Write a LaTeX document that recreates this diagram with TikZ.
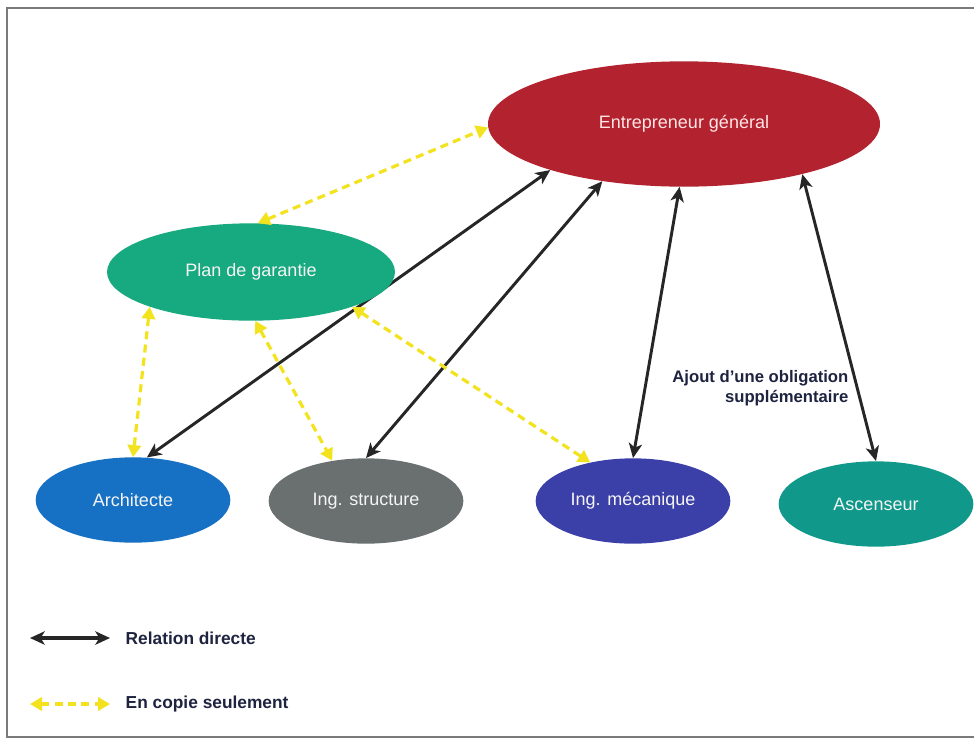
\documentclass[tikz,border=0pt]{standalone}
\usepackage{fontspec}
\setmainfont{Liberation Sans}
\usetikzlibrary{shapes.geometric,arrows.meta}
\definecolor{cEnt}{HTML}{B3222F}
\definecolor{cPlan}{HTML}{17A97F}
\definecolor{cArch}{HTML}{1670C4}
\definecolor{cStr}{HTML}{69706F}
\definecolor{cMec}{HTML}{3B3FA8}
\definecolor{cAsc}{HTML}{10988A}
\definecolor{cYel}{HTML}{F2E31E}
\definecolor{cNavy}{HTML}{1E2340}
\definecolor{cFrame}{HTML}{7A7A7A}
\begin{document}
\begin{tikzpicture}[x=0.75pt,y=-0.75pt,
  blob/.style={ellipse,inner sep=0pt,text=white!92!gray,font=\fontsize{13.5pt}{16pt}\selectfont},
  small/.style={blob,minimum width=146pt,minimum height=64pt},
  direct/.style={draw=black!85,line width=2.2pt,{Stealth[length=11pt,width=10pt,inset=3pt]}-{Stealth[length=11pt,width=10pt,inset=3pt]}},
  copie/.style={draw=cYel,line width=2.4pt,dash pattern=on 6pt off 4pt,{Triangle[length=9pt,width=10pt]}-{Triangle[length=9pt,width=10pt]}},
  lbl/.style={text=cNavy,font=\bfseries\fontsize{12.5pt}{15pt}\selectfont}]
\useasboundingbox (0,0) rectangle (974,740);
\fill[white] (0,0) rectangle (974,740);
\draw[cFrame,line width=1.5pt] (974,8) -- (7,8) -- (7,737) -- (974,737);

\node[blob,fill=cEnt,minimum width=294pt,minimum height=94pt,text=pink!40!white] (ent) at (684,124) {Entrepreneur général};
\node[small,fill=cArch] (arch) at (133,500) {Architecte};
\draw[direct] (arch.72) -- (ent.199);
\node[blob,fill=cPlan,minimum width=216pt,minimum height=73pt] (plan) at (251,272) {Plan de garantie};
\node[small,fill=cStr] (str) at (366,501) {Ing. structure};
\node[small,fill=cMec] (mec) at (633,501) {Ing. mécanique};
\node[small,fill=cAsc] (asc) at (876,504) {Ascenseur};

\node[lbl,align=right,anchor=north east] (note) at (853,366) {Ajout d'une obligation\\supplémentaire};

\draw[direct] (str.north) -- (ent.215);
\draw[direct] (mec.north) -- (ent.266);
\draw[direct] (asc.north) -- (ent.337);

\draw[copie] (plan.82) -- (ent.181);
\draw[copie] (plan.199) -- (arch.north);
\draw[copie] (plan.275) -- (str.130);
\draw[copie] (plan.341) -- (mec.138);

% legend
\coordinate (l1a) at (30,638);
\coordinate (l1b) at (110,638);
\coordinate (l2a) at (30,704);
\coordinate (l2b) at (110,704);
\draw[direct,line width=2.8pt] (l1a) -- (l1b);
\draw[copie] (l2a) -- (l2b);
\node[lbl,anchor=west,font=\bfseries\fontsize{13pt}{15pt}\selectfont] (t1) at (121,638) {Relation directe};
\node[lbl,anchor=west,font=\bfseries\fontsize{13pt}{15pt}\selectfont] (t2) at (121,704) {En copie seulement};
\end{tikzpicture}
\end{document}
